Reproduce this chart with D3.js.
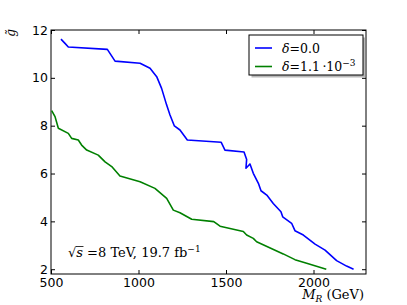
<!DOCTYPE html>
<html>
<head>
<meta charset="utf-8">
<script src="https://cdn.jsdelivr.net/npm/d3@7"></script>
<style>
  body { margin: 0; background: #fff; }
  svg { display: block; }
  .tick text { font-family: "DejaVu Sans", sans-serif; font-size: 12.5px; fill: #000; }
  .tick line { stroke: #000; }
  .serif { font-family: "DejaVu Serif", serif; fill: #000; }
</style>
</head>
<body>
<div id="chart-wrapper"></div>
<script>
// limit curves: [M_R in GeV, g~]
const deltaZero = [
  [557,11.62],[580,11.44],[599,11.29],[822,11.19],[866,10.70],[1009,10.61],
  [1066,10.40],[1104,10.05],[1132,9.56],[1161,8.86],[1180,8.45],[1205,7.99],
  [1237,7.82],[1279,7.40],[1472,7.31],[1494,6.98],[1603,6.90],[1618,6.59],
  [1614,6.22],[1637,6.40],[1656,6.01],[1685,5.59],[1700,5.28],[1733,5.10],
  [1770,4.75],[1814,4.40],[1824,4.19],[1875,3.92],[1894,3.61],[1942,3.43],
  [2009,3.05],[2066,2.80],[2132,2.36],[2189,2.13],[2229,2.00]
];
const deltaSmall = [
  [504,8.63],[523,8.38],[542,7.89],[599,7.68],[618,7.47],[656,7.40],
  [675,7.19],[704,6.98],[770,6.77],[809,6.49],[847,6.29],[894,5.90],
  [1009,5.66],[1094,5.38],[1161,4.96],[1199,4.47],[1237,4.36],[1304,4.09],
  [1430,3.99],[1466,3.80],[1599,3.58],[1618,3.43],[1656,3.29],[1675,3.15],
  [1827,2.64],[1894,2.40],[1961,2.25],[2073,2.00]
];
const seriesLabels = [["0.0", null], ["1.1", "\u22123"]];
const seriesColors = ["#0000ff", "#008000"];
const xTicks = [500, 1000, 1500, 2000];
const yTicks = [2, 4, 6, 8, 10, 12];

const W = 407, H = 305;
const margin = {left: 51, right: 41, top: 30, bottom: 31};

const svg = d3.select("#chart-wrapper").append("svg")
  .attr("width", W).attr("height", H);
svg.append("rect").attr("width", W).attr("height", H).attr("fill", "#fff");

const x = d3.scaleLinear().domain([500, 2300]).range([margin.left, W - margin.right]);
const y = d3.scaleLinear().domain([1.8, 12]).range([H - margin.bottom, margin.top]);

// axes, ticks pointing in
svg.append("g").attr("transform", `translate(0,${y.range()[0]})`)
  .call(d3.axisBottom(x).tickValues(xTicks).tickFormat(d3.format("d"))
    .tickSizeInner(-4).tickSizeOuter(0).tickPadding(4));
svg.append("g").attr("transform", `translate(0,${y.range()[1]})`)
  .call(d3.axisTop(x).tickValues(xTicks).tickSizeInner(-4).tickSizeOuter(0).tickFormat(""));
svg.append("g").attr("transform", `translate(${x.range()[0]},0)`)
  .call(d3.axisLeft(y).tickValues(yTicks).tickFormat(d3.format("d"))
    .tickSizeInner(-4).tickSizeOuter(0).tickPadding(3));
svg.append("g").attr("transform", `translate(${x.range()[1]},0)`)
  .call(d3.axisRight(y).tickValues(yTicks).tickSizeInner(-4).tickSizeOuter(0).tickFormat(""));
svg.selectAll(".domain").remove();

svg.append("rect")
  .attr("x", x.range()[0]).attr("y", y.range()[1])
  .attr("width", x.range()[1] - x.range()[0])
  .attr("height", y.range()[0] - y.range()[1])
  .attr("fill", "none").attr("stroke", "#000").attr("stroke-width", 1);

const line = d3.line().x(d => x(d[0])).y(d => y(d[1]));
[deltaZero, deltaSmall].forEach((pts, i) => {
  svg.append("path").datum(pts)
    .attr("d", line)
    .attr("fill", "none")
    .attr("stroke", seriesColors[i])
    .attr("stroke-width", 1.6)
    .attr("stroke-linejoin", "round");
});

// legend
const lg = svg.append("g").attr("transform", "translate(249,35)");
lg.append("rect").attr("x", 2.5).attr("y", 2.5).attr("width", 114).attr("height", 40)
  .attr("fill", "#888").attr("opacity", 0.6);
lg.append("rect").attr("width", 114).attr("height", 40)
  .attr("fill", "#fff").attr("stroke", "#000");
seriesLabels.forEach((s, i) => {
  const ly = 13 + i * 18.5;
  lg.append("line").attr("x1", 6).attr("x2", 23).attr("y1", ly).attr("y2", ly)
    .attr("stroke", seriesColors[i]).attr("stroke-width", 1.6);
  const t = lg.append("text").attr("class", "serif").attr("x", 33).attr("y", ly + 4.5)
    .attr("font-size", 12.5);
  t.append("tspan").attr("font-style", "italic").text("\u03b4");
  t.append("tspan").text("=" + s[0]);
  if (s[1]) {
    t.append("tspan").text("\u2009\u00b710");
    t.append("tspan").attr("dy", -5).attr("font-size", 9).text(s[1]);
  }
});

// annotation
const ann = svg.append("text").attr("class", "serif").attr("x", 68).attr("y", 257)
  .attr("font-size", 13);
ann.append("tspan").text("\u221a");
ann.append("tspan").attr("font-style", "italic").text("s");
ann.append("tspan").text(" =8 TeV, 19.7 fb");
ann.append("tspan").attr("dy", -5).attr("font-size", 9).text("\u22121");
// radical bar over the s
const sBox = ann.node().getExtentOfChar(1);
const rBox = ann.node().getExtentOfChar(0);
svg.append("line")
  .attr("x1", rBox.x + rBox.width - 0.5).attr("x2", sBox.x + sBox.width + 0.5)
  .attr("y1", rBox.y + 1.5).attr("y2", rBox.y + 1.5)
  .attr("stroke", "#000").attr("stroke-width", 0.8);

// axis labels
const xl = svg.append("text").attr("class", "serif").attr("x", 364).attr("y", 299)
  .attr("text-anchor", "end").attr("font-size", 13);
xl.append("tspan").attr("font-style", "italic").text("M");
xl.append("tspan").attr("font-style", "italic").attr("font-size", 9).attr("dy", 3).text("R");
xl.append("tspan").attr("dy", -3).text("  (GeV)");

svg.append("text").attr("class", "serif")
  .attr("transform", "translate(15,33) rotate(-90)")
  .attr("text-anchor", "middle").attr("font-size", 12).attr("font-style", "italic")
  .text("g\u0303");
</script>
</body>
</html>
